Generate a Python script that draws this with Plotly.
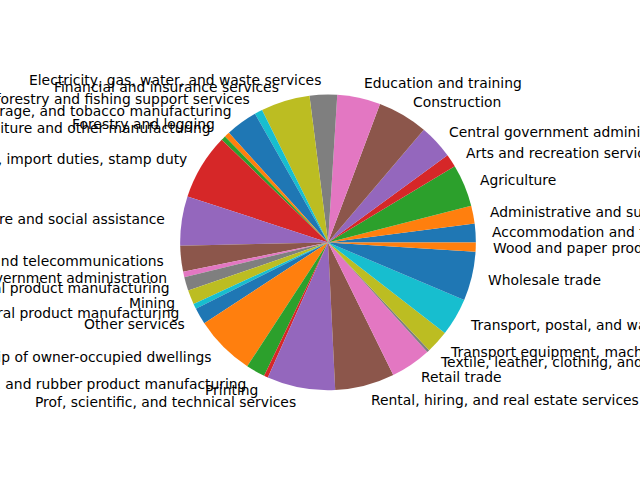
import math
import plotly.graph_objects as go

labels = [
    "Accommodation and food services",
    "Administrative and support services",
    "Agriculture",
    "Arts and recreation services",
    "Central government administration, defence, and public safety",
    "Construction",
    "Education and training",
    "Electricity, gas, water, and waste services",
    "Financial and insurance services",
    "Fishing, aquaculture, and agriculture, forestry and fishing support services",
    "Food, beverage, and tobacco manufacturing",
    "Forestry and logging",
    "Furniture and other manufacturing",
    "GST on production, import duties, stamp duty",
    "Health care and social assistance",
    "Information media and telecommunications",
    "Local government administration",
    "Metal product manufacturing",
    "Mining",
    "Non-metallic mineral product manufacturing",
    "Other services",
    "Ownership of owner-occupied dwellings",
    "Petroleum, chemical, polymer, and rubber product manufacturing",
    "Printing",
    "Prof, scientific, and technical services",
    "Rental, hiring, and real estate services",
    "Retail trade",
    "Textile, leather, clothing, and footwear manufacturing",
    "Transport equipment, machinery, and equipment manufacturing",
    "Transport, postal, and warehousing",
    "Wholesale trade",
    "Wood and paper products manufacturing",
]

values = [7.3, 7.1, 16.6, 5.1, 13.5, 19.8, 17.0, 10.8, 19.3, 3.1, 12.5, 2.1,
          1.8, 25.9, 19.4, 10.2, 2.1, 5.4, 5.6, 2.1, 6.5, 23.7, 7.5, 1.6,
          26.8, 23.4, 16.0, 1.0, 9.0, 14.9, 19.3, 3.6]

tab10 = ["#1f77b4", "#ff7f0e", "#2ca02c", "#d62728", "#9467bd",
         "#8c564b", "#e377c2", "#7f7f7f", "#bcbd22", "#17becf"]
colors = [tab10[i % 10] for i in range(len(values))]

W, H = 640, 480
cx, cy = 328.0, 237.6   # centre in px (from bottom)
r = 147.84

total = sum(values)
# plotly places the boundary between slice 1 and 2 at `rotation` when counterclockwise
rotation = 90 - 360.0 * values[0] / total

fig = go.Figure(go.Pie(
    labels=labels, values=values, sort=False,
    direction="counterclockwise", rotation=rotation,
    marker=dict(colors=colors, line=dict(width=0)),
    textinfo="none", hoverinfo="skip",
    domain=dict(x=[(cx - r) / W, (cx + r) / W], y=[(cy - r) / H, (cy + r) / H]),
))

cum = 0.0
annotations = []
for lab, v in zip(labels, values):
    mid = 2 * math.pi * (cum + v / 2) / total
    cum += v
    x = math.cos(mid) * 1.1 * r
    y = math.sin(mid) * 1.1 * r
    annotations.append(dict(
        x=(cx + x) / W, y=(cy + y) / H, xref="paper", yref="paper",
        text=lab, showarrow=False,
        xanchor="left" if x > 0 else "right", yanchor="middle",
        font=dict(family="DejaVu Sans", size=13.89, color="black"),
    ))

fig.update_layout(
    width=W, height=H, margin=dict(l=0, r=0, t=0, b=0),
    showlegend=False, paper_bgcolor="white", plot_bgcolor="white",
    annotations=annotations,
)
fig.write_html("out.html")
